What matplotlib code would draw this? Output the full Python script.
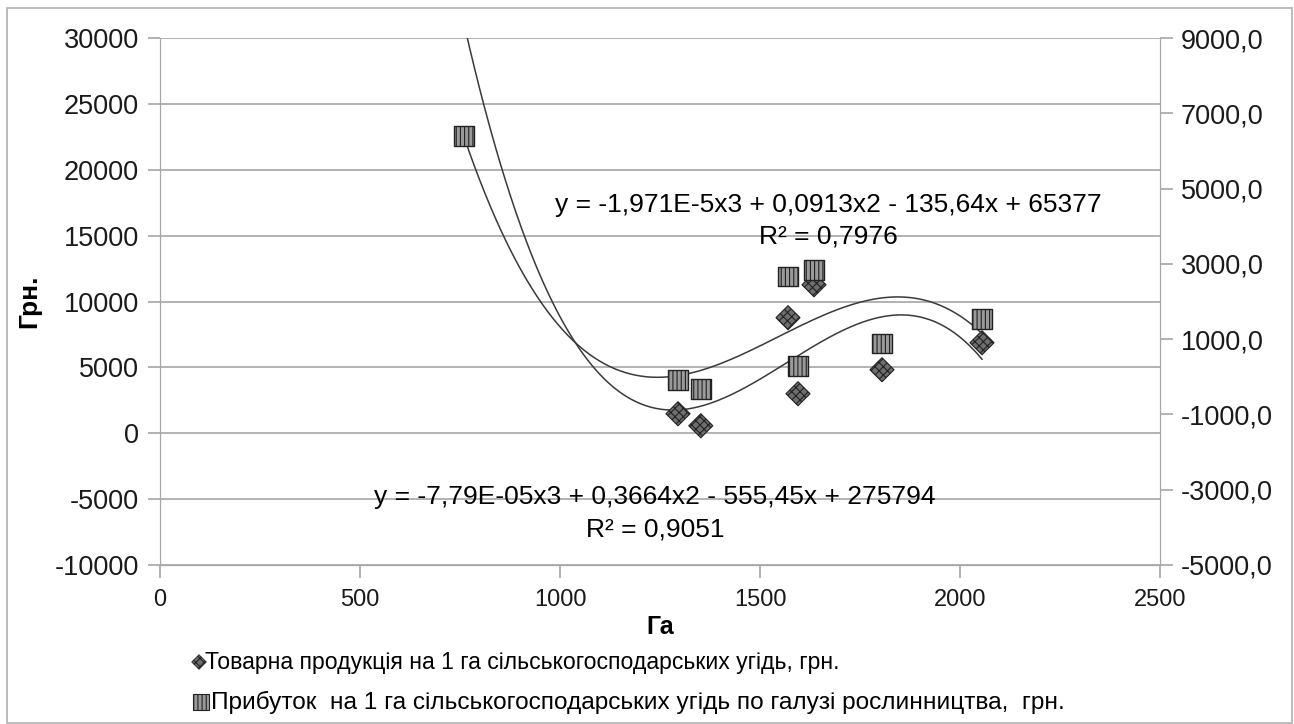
import numpy as np
import matplotlib.pyplot as plt
from matplotlib.patches import Rectangle

# Товарна продукція (ліва вісь)
x_prod = [760, 1295, 1352, 1570, 1595, 1635, 1805, 2055]
y_prod = [30600, 1480, 570, 8770, 3000, 11270, 4820, 6870]
# Прибуток (права вісь)
x_prof = [760, 1295, 1352, 1570, 1595, 1635, 1805, 2055]
y_prof = [6400, -80, -320, 2660, 290, 2840, 880, 1540]

# trendline coefficients as printed on the chart
coef_prod = [-7.79e-05, 0.3664, -555.45, 275794]
coef_prof = [-1.971e-5, 0.0913, -135.64, 65377]

x_ticks = [0, 500, 1000, 1500, 2000, 2500]

lab_prod = "Товарна продукція на 1 га сільськогосподарських угідь, грн."
lab_prof = "Прибуток  на 1 га сільськогосподарських угідь по галузі рослинництва,  грн."

plt.rcParams['font.family'] = ['Liberation Sans', 'DejaVu Sans']
plt.rcParams['axes.unicode_minus'] = False
plt.rcParams['hatch.linewidth'] = 0.8

fig = plt.figure(figsize=(12.94, 7.24), dpi=100)
fig.patches.append(Rectangle((7 / 1294, 1 / 724), 1285 / 1294, 715 / 724, transform=fig.transFigure,
                             fill=False, edgecolor='#b0b0b0', lw=1.2))

ax = fig.add_axes([160 / 1294, 1 - 565 / 724, 1000 / 1294, 527 / 724])
ax2 = ax.twinx()
gc = '#a6a6a6'

ax.set_xlim(0, 2500)
ax.set_ylim(-10000, 30000)
ax2.set_ylim(-5000, 9000)
ax.set_xticks(x_ticks)
ax.set_yticks(np.arange(-10000, 30001, 5000))
ax2.set_yticks(np.arange(-5000, 9001, 2000))
ax2.set_yticklabels([f"{v:.1f}".replace('.', ',') for v in np.arange(-5000, 9001, 2000)])
ax.grid(axis='y', color=gc, lw=1.2)
for a in (ax, ax2):
    for s in a.spines.values():
        s.set_color(gc)
    a.spines['top'].set_visible(False)
    a.tick_params(colors=gc, labelcolor='#1a1a1a', length=9, width=1.2, labelsize=19.5)
ax.tick_params(axis='x', labelsize=17, pad=8)
ax.tick_params(axis='y', pad=6)
ax2.tick_params(axis='y', pad=6)

ax.set_ylabel("Грн.", fontsize=19, fontweight='bold', labelpad=10)
ax.set_xlabel("Га", fontsize=18, fontweight='bold', labelpad=3)

xs1 = np.linspace(min(x_prod), max(x_prod), 300)
ax.plot(xs1, np.polyval(coef_prod, xs1), color='#3a3a3a', lw=1.1, zorder=3)
xs2 = np.linspace(min(x_prof), max(x_prof), 300)
ax2.plot(xs2, np.polyval(coef_prof, xs2), color='#3a3a3a', lw=1.1, zorder=3)

# points outside the axis range are not drawn (as in the original)
xp = np.array(x_prod)
yp = np.array(y_prod)
vis = yp <= 30000
ax.scatter(xp[vis], yp[vis], marker='D', s=150, facecolor='#6e6e6e', edgecolor='#222222',
           hatch='xxxx', linewidths=0.8, zorder=4)
ax2.scatter(x_prof, y_prof, marker='s', s=200, facecolor='#9a9a9a', edgecolor='#222222',
            hatch='||||', linewidths=1.0, zorder=4)

ax.text(1672, 17340, "y = -1,971E-5x3 + 0,0913x2 - 135,64x + 65377",
        ha='center', va='center', fontsize=19, zorder=5)
ax.text(1672, 14910, "R² = 0,7976", ha='center', va='center', fontsize=19, zorder=5)
ax.text(1237, -4820, "y = -7,79E-05x3 + 0,3664x2 - 555,45x + 275794",
        ha='center', va='center', fontsize=19, zorder=5)
ax.text(1237, -7320, "R² = 0,9051", ha='center', va='center', fontsize=19, zorder=5)

# legend below the axis
fig.text(205 / 1294, 1 - 662 / 724, lab_prod, fontsize=16.6, va='center', ha='left')
fig.text(211 / 1294, 1 - 702 / 724, lab_prof, fontsize=17.6, va='center', ha='left')
lax = fig.add_axes([0, 0, 1, 1], facecolor='none')
lax.set_xlim(0, 1294)
lax.set_ylim(724, 0)
lax.axis('off')
lax.scatter([199], [662], marker='D', s=55, facecolor='#6e6e6e', edgecolor='#222222',
            hatch='xxxx', linewidths=0.6)
lax.scatter([201], [702], marker='s', s=120, facecolor='#9a9a9a', edgecolor='#222222',
            hatch='||||', linewidths=0.8)

fig.savefig("out.png", dpi=100)
